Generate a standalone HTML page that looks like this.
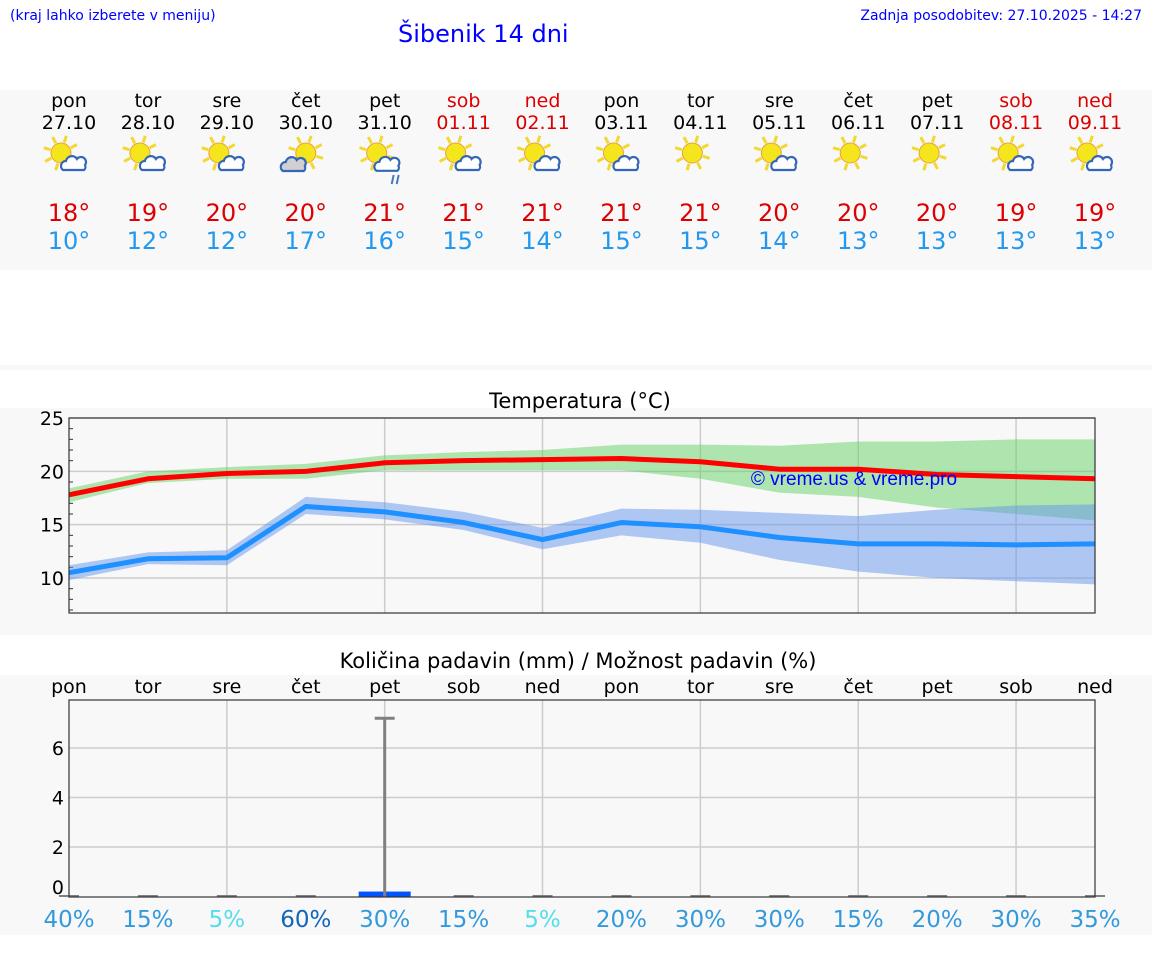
<!DOCTYPE html>
<html><head><meta charset="utf-8">
<style>
body{margin:0;width:1152px;height:975px;background:#fff;font-family:"DejaVu Sans","Liberation Sans",sans-serif;overflow:hidden;position:relative}
.t{position:absolute;white-space:nowrap}
svg{position:absolute;left:0;top:0}
</style></head><body>
<div class="t" style="left:10px;top:8px;font-size:14px;color:#00f">(kraj lahko izberete v meniju)</div>
<div class="t" style="left:398px;top:20px;font-size:24px;color:#00f">Šibenik 14 dni</div>
<div class="t" style="right:10px;top:8px;font-size:14px;color:#00f">Zadnja posodobitev: 27.10.2025 - 14:27</div>
<svg width="1152" height="975" id="svg" font-family="DejaVu Sans, Liberation Sans, sans-serif"></svg>
<script>
const days=["pon","tor","sre","čet","pet","sob","ned","pon","tor","sre","čet","pet","sob","ned"];
const dates=["27.10","28.10","29.10","30.10","31.10","01.11","02.11","03.11","04.11","05.11","06.11","07.11","08.11","09.11"];
const weekend=[0,0,0,0,0,1,1,0,0,0,0,0,1,1];
const icons=["pc","pc","pc","cl","rn","pc","pc","pc","su","pc","su","su","pc","pc"];
const hiLabels=[18,19,20,20,21,21,21,21,21,20,20,20,19,19];
const loLabels=[10,12,12,17,16,15,14,15,15,14,13,13,13,13];
const tMax=[17.8,19.3,19.8,20.0,20.8,21.0,21.1,21.2,20.9,20.2,20.2,19.7,19.5,19.3];
const tMaxHi=[18.4,20.0,20.4,20.7,21.5,21.8,22.0,22.5,22.5,22.4,22.8,22.8,23.0,23.0];
const tMaxLo=[17.1,18.9,19.3,19.3,20.1,20.1,20.1,20.1,19.3,18.0,17.6,16.6,16.0,15.4];
const tMin=[10.5,11.8,11.9,16.7,16.2,15.2,13.6,15.2,14.8,13.8,13.2,13.2,13.1,13.2];
const tMinHi=[11.2,12.4,12.6,17.6,17.1,16.2,14.7,16.5,16.4,16.1,15.8,16.4,16.8,16.9];
const tMinLo=[9.8,11.3,11.2,16.0,15.5,14.5,12.7,14.0,13.3,11.7,10.6,10.0,9.7,9.4];
const tTicks=[10,15,20,25];
const precip=[0,0,0,0,0.2,0,0,0,0,0,0,0,0,0];
const precipMax=[0,0,0,0,7.2,0,0,0,0,0,0,0,0,0];
const pTicks=[0,2,4,6];
const prob=[40,15,5,60,30,15,5,20,30,30,15,20,30,35];

const S=document.getElementById('svg');const NS='http://www.w3.org/2000/svg';
function el(tag,a,name,txt){const e=document.createElementNS(NS,tag);for(const k in a)e.setAttribute(k,a[k]);


if(txt!==undefined)e.textContent=txt;S.appendChild(e);return e;}
const X0=69,X1=1095;const xs=i=>X0+i*(X1-X0)/13;
const yT=v=>578-(v-10)*10.667;
const yP=v=>896.5-v*24.75;
el('rect',{x:0,y:90,width:1152,height:180,fill:'#f8f8f8'},'header-band');
el('rect',{x:0,y:365,width:1152,height:5,fill:'#f8f8f8'},'separator-band');
el('rect',{x:0,y:408,width:1152,height:227,fill:'#f8f8f8'},'temp-panel');
el('rect',{x:0,y:675,width:1152,height:260,fill:'#f8f8f8'},'precip-panel');
function icon(type,cx,cy){
 const g=el('g',{transform:`translate(${cx},${cy})`},'weather-icon-'+type);
 const add=(t,a)=>{const e=document.createElementNS(NS,t);for(const k in a)e.setAttribute(k,a[k]);g.appendChild(e);};
 const sx=type==='cl'?4:-4,sy=-4;
 for(let k=0;k<8;k++){const a=k*Math.PI/4+0.3;add('line',{x1:sx+Math.cos(a)*11,y1:sy+Math.sin(a)*11,x2:sx+Math.cos(a)*18,y2:sy+Math.sin(a)*18,stroke:'#f2d930','stroke-width':3});}
 add('circle',{cx:sx,cy:sy,r:10,fill:'#f4e51c',stroke:'#e8a040','stroke-width':1});
 if(type==='su')return;
 const big=type==='rn';const fill=type==='cl'?'#d0d0d0':'#fff';
 const ox=type==='cl'?-8:(big?10:9),oy=type==='cl'?8:(big?6:7),s=big?1.3:1;
 add('path',{d:`M${ox-11*s},${oy+6*s} a5 5 0 0 1 3,-9 a6 6 0 0 1 11,-2 a5 5 0 0 1 8,6 a4 4 0 0 1 -1,5 z`,fill:fill,stroke:'#3366bb','stroke-width':2.2});
 if(big){add('line',{x1:13,y1:18,x2:11,y2:27,stroke:'#4477bb','stroke-width':2});add('line',{x1:18,y1:18,x2:16,y2:27,stroke:'#4477bb','stroke-width':2});}
}
for(let i=0;i<14;i++){const x=xs(i);const c=weekend[i]?'#dd0000':'#000';
 el('text',{x:x,y:107,'text-anchor':'middle','font-size':19,fill:c},'day-name',days[i]);
 el('text',{x:x,y:129,'text-anchor':'middle','font-size':19,fill:c},'day-date',dates[i]);
 icon(icons[i],x-4,157);
 el('text',{x:x,y:221,'text-anchor':'middle','font-size':24,fill:'#dd0000'},'max-temp-label',hiLabels[i]+'°');
 el('text',{x:x,y:249,'text-anchor':'middle','font-size':24,fill:'#2299ee'},'min-temp-label',loLabels[i]+'°');
}
el('text',{x:580,y:408,'text-anchor':'middle','font-size':21,fill:'#000'},'temp-chart-title','Temperatura (°C)');
el('rect',{x:X0,y:418,width:X1-X0,height:195,fill:'#f8f8f8'},'temp-plot-area');
for(let i=2;i<14;i+=2)el('line',{x1:xs(i),y1:418,x2:xs(i),y2:613,stroke:'#ccc','stroke-width':1.5},'temp-vgrid');
for(const t of tTicks){el('line',{x1:X0,y1:yT(t),x2:X1,y2:yT(t),stroke:'#ccc','stroke-width':1.5},'temp-hgrid');
 el('text',{x:64,y:yT(t)+7,'text-anchor':'end','font-size':19,fill:'#000'},'temp-tick-label',t);}
for(let v=7;v<25;v++)if(v%5)el('line',{x1:X0,y1:yT(v),x2:X0+4,y2:yT(v),stroke:'#333'},'temp-minor-tick');
function band(hi,lo,fill,name){let d='';hi.forEach((v,i)=>d+=(i?'L':'M')+xs(i)+','+yT(v));
 for(let i=lo.length-1;i>=0;i--)d+='L'+xs(i)+','+yT(lo[i]);el('path',{d:d+'Z',fill:fill},name);}
function line(vals,col,name){el('polyline',{points:vals.map((v,i)=>xs(i)+','+yT(v)).join(' '),fill:'none',stroke:col,'stroke-width':5,'stroke-linejoin':'round'},name);}
band(tMaxHi,tMaxLo,'rgba(100,210,100,0.5)','max-temp-band');
band(tMinHi,tMinLo,'rgba(100,150,235,0.5)','min-temp-band');
line(tMax,'#ff0000','max-temp-line');line(tMin,'#1e90ff','min-temp-line');
el('text',{x:854,y:485,'text-anchor':'middle','font-size':19,fill:'#0000ff','font-family':'Liberation Sans, sans-serif'},'watermark','© vreme.us & vreme.pro');
el('rect',{x:X0,y:418,width:X1-X0,height:195,fill:'none',stroke:'#333','stroke-width':1.2},'temp-plot-frame');
el('text',{x:578,y:668,'text-anchor':'middle','font-size':21,fill:'#000'},'precip-chart-title','Količina padavin (mm) / Možnost padavin (%)');
for(let i=0;i<14;i++)el('text',{x:xs(i),y:693,'text-anchor':'middle','font-size':19,fill:'#000'},'precip-day-name',days[i]);
for(let i=2;i<14;i+=2)el('line',{x1:xs(i),y1:700,x2:xs(i),y2:897,stroke:'#ccc','stroke-width':1.5},'precip-vgrid');
for(const t of pTicks){if(t)el('line',{x1:X0,y1:yP(t),x2:X1,y2:yP(t),stroke:'#ccc','stroke-width':1.5},'precip-hgrid');
 el('text',{x:64,y:(t?yP(t):887)+7,'text-anchor':'end','font-size':19,fill:'#000'},'precip-tick-label',t);}
for(let i=0;i<14;i++){const x=xs(i);
 if(precip[i]>0)el('rect',{x:x-26,y:yP(precip[i]),width:52,height:896.5-yP(precip[i]),fill:'#0055ff'},'precip-bar');
 if(precipMax[i]>0){el('line',{x1:x,y1:yP(precipMax[i]),x2:x,y2:897,stroke:'#808080','stroke-width':3},'precip-range');
  el('line',{x1:x-10,y1:yP(precipMax[i]),x2:x+10,y2:yP(precipMax[i]),stroke:'#808080','stroke-width':3},'precip-range-cap');}
 else el('line',{x1:x-10,y1:896,x2:x+10,y2:896,stroke:'#808080','stroke-width':2},'precip-range-cap');
 const p=prob[i];const c=p<=5?'#55ddee':(p>=60?'#1166bb':'#3399dd');
 el('text',{x:x,y:927,'text-anchor':'middle','font-size':23,fill:c},'precip-probability',p+'%');
}
el('rect',{x:X0,y:700,width:X1-X0,height:197,fill:'none',stroke:'#333','stroke-width':1.2},'precip-plot-frame');
</script>
</body></html>
